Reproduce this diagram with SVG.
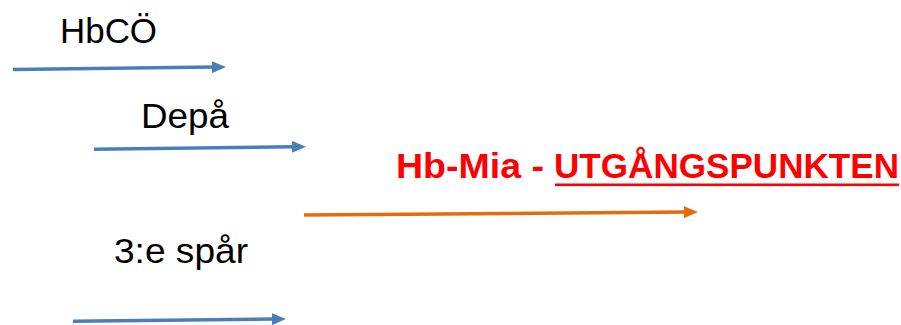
<svg xmlns="http://www.w3.org/2000/svg" width="901" height="325" viewBox="0 0 901 325">
  <style>
    .lbl { font-family: "Liberation Sans", Arial, sans-serif; font-size: 35px; fill: #000000; }
    .red { font-family: "Liberation Sans", Arial, sans-serif; font-size: 35px; font-weight: bold; fill: #FF0000; }
    .blue { stroke: #4A7EBB; stroke-width: 3.5; fill: none; marker-end: url(#hb); }
    .orange { stroke: #E46C0A; stroke-width: 3.5; fill: none; marker-end: url(#ho); }
  </style>
  <defs>
    <marker id="hb" markerUnits="userSpaceOnUse" viewBox="0 -6 14 12" refX="2" refY="0" markerWidth="14" markerHeight="12" orient="auto">
      <path d="M0,-6 L14,0 L0,6 z" fill="#4A7EBB"/>
    </marker>
    <marker id="ho" markerUnits="userSpaceOnUse" viewBox="0 -6 14 12" refX="2" refY="0" markerWidth="14" markerHeight="12" orient="auto">
      <path d="M0,-6 L14,0 L0,6 z" fill="#E46C0A"/>
    </marker>
  </defs>
  <rect width="901" height="325" fill="#FFFFFF"/>
  <g id="connectors">
    <path class="blue" d="M13,69.5 L214,67.1"/>
    <path class="blue" d="M94,149.3 L294,146.8"/>
    <path class="orange" d="M304,215 L686,212.1"/>
    <path class="blue" d="M73,321.2 L274,319.1"/>
  </g>
  <g id="node-hbco">
    <text class="lbl" x="60" y="43" textLength="97" lengthAdjust="spacingAndGlyphs">HbCÖ</text>
  </g>
  <g id="node-depa">
    <text class="lbl" x="141" y="128" textLength="88" lengthAdjust="spacingAndGlyphs">Depå</text>
  </g>
  <g id="node-3e-spar">
    <text class="lbl" x="114" y="263" textLength="134" lengthAdjust="spacingAndGlyphs">3:e spår</text>
  </g>
  <g id="node-hb-mia">
    <text class="red" x="396" y="177.5" textLength="148" lengthAdjust="spacingAndGlyphs">Hb-Mia -</text>
    <text class="red" x="554" y="177.5" textLength="345" lengthAdjust="spacingAndGlyphs">UTGÅNGSPUNKTEN</text>
    <rect x="555" y="183.5" width="344" height="2.6" fill="#FF0000"/>
  </g>
</svg>
